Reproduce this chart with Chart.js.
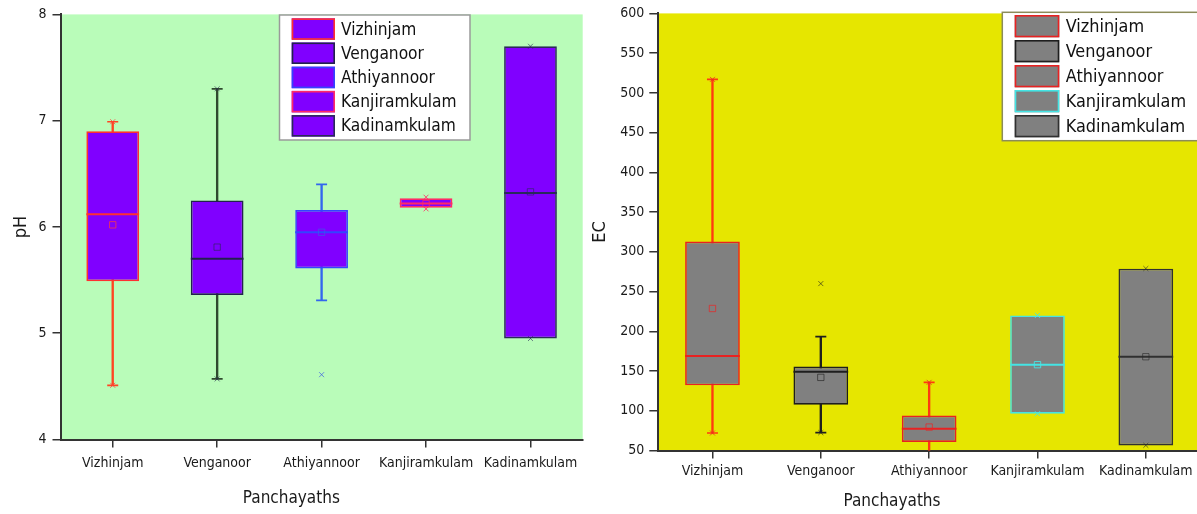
<!DOCTYPE html>
<html><head><meta charset="utf-8">
<script src="https://cdn.jsdelivr.net/npm/chart.js@4.4.1/dist/chart.umd.min.js"></script>
<style>
html,body{margin:0;padding:0;background:#fff;overflow:hidden;width:1197px;height:514px;position:relative;}
#c1{position:absolute;left:0;top:0;}
#c2{position:absolute;left:584px;top:0;}
</style></head><body>
<canvas id="c1" width="590" height="514"></canvas>
<canvas id="c2" width="616" height="514"></canvas>
<script>
// ---------- data ----------
const categories = ['Vizhinjam', 'Venganoor', 'Athiyannoor', 'Kanjiramkulam', 'Kadinamkulam'];

// pH box plot statistics
const phQ1        = [5.49, 5.36, 5.61, 6.18, 4.95];
const phMedian    = [6.12, 5.70, 5.95, 6.22, 6.32];
const phQ3        = [6.90, 6.25, 6.16, 6.27, 7.70];
const phMean      = [6.02, 5.81, 5.95, 6.22, 6.33];
const phWhiskLow  = [4.51, 4.57, 5.31, null, null];
const phWhiskHigh = [6.99, 7.30, 6.40, null, null];
const phDataMin   = [4.51, 4.57, 4.61, 6.17, 4.95];
const phDataMax   = [6.99, 7.30, null, 6.28, 7.70];
const phTicks     = [4, 5, 6, 7, 8];

// EC box plot statistics
const ecQ1        = [132, 107.5, 60.8, 96.3, 56.3];
const ecMedian    = [169, 149, 77.5, 158, 168];
const ecQ3        = [313, 155.7, 94.1, 220, 278.8];
const ecMean      = [228.7, 142, 79.5, 158, 168];
const ecWhiskLow  = [72, 72.5, 40, null, null];
const ecWhiskHigh = [517, 193.3, 135.8, null, null];
const ecDataMin   = [72, 72.5, null, 96.3, 56.5];
const ecDataMax   = [517, 260, 135.8, 220, 279];
const ecTicks     = [50, 100, 150, 200, 250, 300, 350, 400, 450, 500, 550, 600];

// ---------- styles ----------
const FONT = '"DejaVu Sans Condensed", "Liberation Sans", sans-serif';
const boxFrac = 0.505;

const phStyle = {
  plotBg: '#b9fcb9',
  fill: '#8000ff',
  border: ['#ff3030', '#22224e', '#3344ff', '#ff2a66', '#2a2a5a'],
  whisker: ['#ff4422', '#2f4a2f', '#3366ee', '#ff2a66', '#2a2a5a'],
  marker: ['rgba(255,60,60,0.75)', 'rgba(40,40,80,0.6)', 'rgba(60,90,230,0.7)', 'rgba(255,40,100,0.8)', 'rgba(40,40,90,0.6)'],
  legendBorder: '#9a9a9a'
};
const ecStyle = {
  plotBg: '#e6e600',
  fill: '#808080',
  border: ['#e82222', '#1e1e1e', '#e82222', '#44e4e4', '#303030'],
  whisker: ['#ff3a10', '#1e1e1e', '#ff3a10', '#44e4e4', '#303030'],
  marker: ['rgba(230,40,40,0.75)', 'rgba(30,30,30,0.6)', 'rgba(230,40,40,0.75)', 'rgba(70,230,230,0.9)', 'rgba(40,40,40,0.6)'],
  legendBorder: '#8c8c5a'
};

const plotBgPlugin = {
  id: 'plotBg',
  beforeDraw(chart, args, o) {
    const {ctx, chartArea: a} = chart;
    ctx.save();
    ctx.fillStyle = o.color;
    ctx.fillRect(a.left, a.top, a.right - a.left, a.bottom - a.top);
    ctx.restore();
  }
};

const boxLegendPlugin = {
  id: 'boxLegend',
  afterDraw(chart, args, o) {
    const ctx = chart.ctx;
    ctx.save();
    ctx.fillStyle = '#ffffff';
    ctx.fillRect(o.x, o.y, o.w, o.h);
    ctx.strokeStyle = o.border;
    ctx.lineWidth = 1.5;
    ctx.strokeRect(o.x, o.y, o.w, o.h);
    ctx.font = o.fontSize + 'px ' + FONT;
    ctx.textBaseline = 'middle';
    ctx.textAlign = 'left';
    o.labels.forEach((lab, i) => {
      const y = o.rowTop + i * o.rowStep;
      ctx.fillStyle = o.fill;
      ctx.fillRect(o.swX, y, o.swW, o.swH);
      ctx.strokeStyle = o.strokes[i];
      ctx.lineWidth = 1.6;
      ctx.strokeRect(o.swX + 0.8, y + 0.8, o.swW - 1.6, o.swH - 1.6);
      ctx.fillStyle = '#111';
      ctx.fillText(lab, o.textX, y + o.swH / 2 + 1);
    });
    ctx.restore();
  }
};

function halfBox(ctx) {
  const xs = ctx.chart.scales.x;
  return (xs.width / categories.length) * boxFrac / 2;
}

function buildBoxChart(id, s, L) {
  const datasets = [
    {type: 'bar', label: 'whisker', data: categories.map((c, i) => s.wLow[i] == null ? null : [s.wLow[i], s.wHigh[i]]),
     backgroundColor: s.style.whisker, borderWidth: 0, barThickness: 1.7, grouped: false, order: 6},
    {type: 'bar', label: 'box', data: categories.map((c, i) => [s.q1[i], s.q3[i]]),
     backgroundColor: s.style.fill, borderColor: s.style.border, borderWidth: 1.7, borderSkipped: false,
     grouped: false, barPercentage: boxFrac, categoryPercentage: 1, order: 5},
    {type: 'line', label: 'median', data: s.median, showLine: false, pointStyle: 'line', pointRadius: halfBox,
     pointBorderColor: s.style.border, pointBorderWidth: 2, order: 4},
    {type: 'line', label: 'capHigh', data: s.wHigh, showLine: false, pointStyle: 'line', pointRadius: 5.5,
     pointBorderColor: s.style.whisker, pointBorderWidth: 1.7, order: 3},
    {type: 'line', label: 'capLow', data: s.wLow, showLine: false, pointStyle: 'line', pointRadius: 5.5,
     pointBorderColor: s.style.whisker, pointBorderWidth: 1.7, order: 3},
    {type: 'line', label: 'max', data: s.dMax, showLine: false, pointStyle: 'crossRot', pointRadius: 3.5,
     pointBorderColor: s.style.marker, pointBorderWidth: 1, order: 2},
    {type: 'line', label: 'min', data: s.dMin, showLine: false, pointStyle: 'crossRot', pointRadius: 3.5,
     pointBorderColor: s.style.marker, pointBorderWidth: 1, order: 2},
    {type: 'line', label: 'mean', data: s.mean, showLine: false, pointStyle: 'rect', pointRadius: 4.5,
     pointBackgroundColor: 'rgba(0,0,0,0)', pointBorderColor: s.style.marker, pointBorderWidth: 1, order: 1}
  ];
  return new Chart(document.getElementById(id), {
    type: 'bar',
    data: {labels: categories, datasets},
    plugins: [plotBgPlugin, boxLegendPlugin],
    options: {
      responsive: false,
      animation: false,
      events: [],
      layout: {autoPadding: false, padding: L.padding},
      plugins: {
        legend: {display: false},
        tooltip: {enabled: false},
        plotBg: {color: s.style.plotBg},
        title: {display: true, text: 'Panchayaths', position: 'bottom', color: '#1a1a1a',
                font: {family: FONT, size: 17, weight: 'normal'}, padding: {top: 0, bottom: L.titlePadBottom}},
        boxLegend: Object.assign({labels: categories, strokes: s.style.border, fill: s.style.fill, border: s.style.legendBorder}, L.legend)
      },
      scales: {
        x: {
          type: 'category', offset: true,
          grid: {offset: false, drawOnChartArea: false, drawTicks: true, tickLength: 8, color: '#333', lineWidth: 1.5},
          border: {display: true, color: '#333', width: 2},
          ticks: {font: {family: FONT, size: 14}, color: '#1a1a1a', padding: L.xTickPad, maxRotation: 0, autoSkip: false},
          afterFit: sc => { sc.height = L.xHeight; }
        },
        y: {
          type: 'linear', min: s.ticks[0], max: s.ticks[s.ticks.length - 1],
          afterBuildTicks: sc => { sc.ticks = s.ticks.map(v => ({value: v})); },
          grid: {drawOnChartArea: false, drawTicks: true, tickLength: L.yTickLen, color: '#333', lineWidth: 1.5},
          border: {display: true, color: '#333', width: 2},
          ticks: {font: {family: FONT, size: 14}, color: '#1a1a1a', padding: L.yTickPad},
          title: {display: true, text: s.yTitle, color: '#1a1a1a', font: {family: FONT, size: 18},
                  padding: {top: L.yTitlePad, bottom: 0}},
          afterFit: sc => { sc.width = L.yWidth; }
        }
      }
    }
  });
}

buildBoxChart('c1', {
  q1: phQ1, median: phMedian, q3: phQ3, mean: phMean, wLow: phWhiskLow, wHigh: phWhiskHigh,
  dMin: phDataMin, dMax: phDataMax, ticks: phTicks, yTitle: 'pH', style: phStyle
}, {
  padding: {top: 13.3, right: 7.3, bottom: 0, left: 0},
  yWidth: 60.5, yTickLen: 8, yTickPad: 6, yTitlePad: 10.5,
  xHeight: 49.3, xTickPad: 7, titlePadBottom: 4.8,
  legend: {x: 279.5, y: 15, w: 190.5, h: 125, swX: 291.7, swW: 43.3, swH: 21.5, rowTop: 18.3, rowStep: 24.2, textX: 341, fontSize: 17.2}
});

buildBoxChart('c2', {
  q1: ecQ1, median: ecMedian, q3: ecQ3, mean: ecMean, wLow: ecWhiskLow, wHigh: ecWhiskHigh,
  dMin: ecDataMin, dMax: ecDataMax, ticks: ecTicks, yTitle: 'EC', style: ecStyle
}, {
  padding: {top: 10.3, right: 0, bottom: 0, left: 0},
  yWidth: 74.3, yTickLen: 9, yTickPad: 5, yTitlePad: 6,
  xHeight: 41.3, xTickPad: 4, titlePadBottom: 1.8,
  legend: {x: 418.3, y: 12.3, w: 240, h: 128.4, swX: 430.7, swW: 44.6, swH: 22.3, rowTop: 15, rowStep: 25, textX: 481.7, fontSize: 17.9}
});
</script>
</body></html>
